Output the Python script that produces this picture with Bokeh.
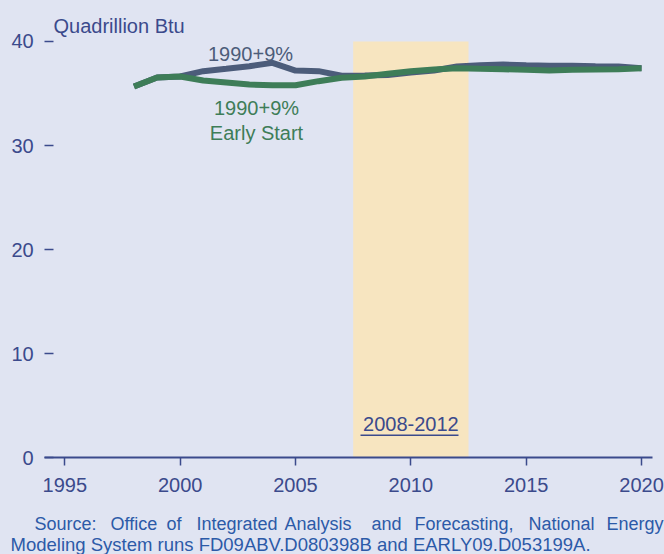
from bokeh.plotting import figure
from bokeh.models import Range1d, Label, FixedTicker, LinearAxis
from bokeh.embed import file_html
from bokeh.resources import INLINE

# ---- data ----
years = list(range(1998, 2021))
base_case = [35.67, 36.53, 36.63, 37.14, 37.37, 37.62, 37.94, 37.20, 37.14, 36.70,
             36.72, 36.77, 37.01, 37.20, 37.59, 37.71, 37.78, 37.71, 37.66, 37.66,
             37.62, 37.59, 37.43]
early_start = [35.67, 36.53, 36.63, 36.24, 36.05, 35.86, 35.79, 35.79, 36.18, 36.50,
               36.63, 36.89, 37.14, 37.30, 37.43, 37.37, 37.33, 37.27, 37.20, 37.27,
               37.30, 37.33, 37.43]
period = [2007.5, 2012.5]
period_label = "2008-2012"
x_ticks = [1995, 2000, 2005, 2010, 2015, 2020]
y_ticks = [0, 10, 20, 30, 40]
x_axis_bounds = (1994.13, 2020.46)

BG = "#E0E4F2"
AXIS = "#3B4A8C"
BLUE = "#4C5C7A"
GREEN = "#3E7D58"
SRC = "#2C5AA8"
FONT = "Liberation Sans"

# helpers mapping page pixels to data coords for annotation placement
def dx(px):
    return 1995 + (px - 64.3) / 23.07

def dy(py):
    return (457.3 - py) / 10.41

W, H = 664, 554
p = figure(width=W, height=H, output_backend="svg", toolbar_location=None,
           x_range=Range1d(dx(0), dx(W)), y_range=Range1d(dy(H), dy(0)),
           x_axis_type=None, y_axis_type=None)
p.min_border = 0
p.min_border_left = 0
p.min_border_right = 0
p.min_border_top = 0
p.min_border_bottom = 0
p.background_fill_color = BG
p.border_fill_color = BG
p.outline_line_color = None

# shaded period
p.quad(left=[period[0]], right=[period[1]], bottom=[0], top=[y_ticks[-1]],
       fill_color="#F7E5C0", line_color=None)

p.line(years, base_case, line_color=BLUE, line_width=6)
p.line(years, early_start, line_color=GREEN, line_width=6)

# axes (fixed inside the frame so that surrounding texts are not clipped)
xa = LinearAxis(ticker=FixedTicker(ticks=x_ticks), fixed_location=0,
                bounds=x_axis_bounds)
xa.axis_line_color = AXIS
xa.axis_line_width = 1.8
xa.major_tick_line_color = AXIS
xa.major_tick_line_width = 1.5
xa.major_tick_out = 8
xa.major_tick_in = 0
xa.minor_tick_line_color = None
xa.major_label_text_color = AXIS
xa.major_label_text_font = FONT
xa.major_label_text_font_size = "20px"
xa.major_label_standoff = 12
p.add_layout(xa, "below")

ya = LinearAxis(ticker=FixedTicker(ticks=y_ticks), fixed_location=x_axis_bounds[0],
                bounds=(y_ticks[0], y_ticks[-1]))
ya.axis_line_color = None
ya.major_tick_line_color = AXIS
ya.major_tick_line_width = 1.5
ya.major_tick_in = 9
ya.major_tick_out = 0
ya.minor_tick_line_color = None
ya.major_label_text_color = AXIS
ya.major_label_text_font = FONT
ya.major_label_text_font_size = "20px"
ya.major_label_standoff = 11
p.add_layout(ya, "left")

def lab(text, x, y, color, size="20px", align="left"):
    p.add_layout(Label(x=x, y=y, text=text, text_color=color, text_font=FONT,
                       text_font_size=size, text_align=align,
                       text_baseline="middle"))

lab("Quadrillion Btu", dx(53), dy(25), AXIS)
lab("1990+9%", dx(250), dy(53), BLUE, align="center")
lab("1990+9%", dx(256), dy(107), GREEN, align="center")
lab("Early Start", dx(256), dy(132), GREEN, align="center")
lab(period_label, (period[0] + period[1]) / 2, dy(423), AXIS, align="center")
p.segment(x0=[dx(360)], y0=[dy(434.7)], x1=[dx(458)], y1=[dy(434.7)],
          line_color=AXIS, line_width=1.5)

# justified first source line: one label per word
words = ["Source:", "Office", "of", "Integrated", "Analysis", "and",
         "Forecasting,", "National", "Energy"]
word_px = [34, 110, 166, 196, 284, 371, 414, 528, 606]
for w, px in zip(words, word_px):
    lab(w, dx(px), dy(523), SRC, size="18px")
lab("Modeling System runs FD09ABV.D080398B and EARLY09.D053199A.", dx(10), dy(544),
    SRC, size="18.5px")

html = file_html(p, INLINE)
html = html.replace("</head>", "<style>body{background:%s;}</style></head>" % BG)
open("out.html", "w").write(html)
